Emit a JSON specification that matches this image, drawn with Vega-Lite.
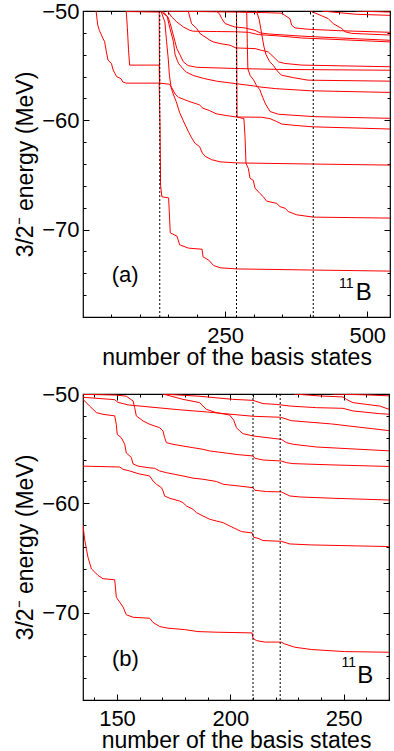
{
  "$schema": "https://vega.github.io/schema/vega-lite/v6.json",
  "padding": {"left": 14, "top": -1, "right": 3, "bottom": 0},
  "spacing": 12,
  "config": {
    "font": "Liberation Sans",
    "view": {"stroke": "#000", "strokeWidth": 1.2},
    "axis": {"domain": false, "grid": false, "labelFont": "Liberation Sans", "labelFontSize": 22, "labelColor": "#000", "titleFont": "Liberation Sans", "titleFontSize": 23, "titleFontWeight": "normal", "titleColor": "#000", "tickColor": "#000", "tickWidth": 1, "labelOverlap": false}
  },
  "datasets": {
    "a": [
      {"c":"E1","x":23,"e":-50},{"c":"E1","x":26,"e":-51.3},{"c":"E1","x":29,"e":-51.8},{"c":"E1","x":35,"e":-52.5},{"c":"E1","x":38,"e":-52.8},{"c":"E1","x":41,"e":-53.7},{"c":"E1","x":44,"e":-54.5},{"c":"E1","x":50,"e":-54.8},{"c":"E1","x":53,"e":-55.4},{"c":"E1","x":56,"e":-55.7},{"c":"E1","x":59,"e":-56.0},{"c":"E1","x":67,"e":-56.2},{"c":"E1","x":70,"e":-56.5},{"c":"E1","x":76,"e":-56.6},{"c":"E1","x":134,"e":-56.6},{"c":"E1","x":135.5,"e":-60.5},{"c":"E1","x":136.5,"e":-66.0},{"c":"E1","x":138.8,"e":-67.0},{"c":"E1","x":150.6,"e":-67.1},{"c":"E1","x":153.5,"e":-70.3},{"c":"E1","x":165.3,"e":-70.6},{"c":"E1","x":170,"e":-71.4},{"c":"E1","x":185.9,"e":-71.7},{"c":"E1","x":209.4,"e":-71.8},{"c":"E1","x":211.2,"e":-72.5},{"c":"E1","x":221.2,"e":-72.8},{"c":"E1","x":230,"e":-73.3},{"c":"E1","x":241.8,"e":-73.5},{"c":"E1","x":271,"e":-73.6},{"c":"E1","x":400,"e":-73.7},{"c":"E1","x":540,"e":-73.8},
      {"c":"T0","x":76,"e":-50.05},{"c":"T0","x":134,"e":-50.1},{"c":"T0","x":134.5,"e":-54.95},{"c":"T0","x":135,"e":-56.6},
      {"c":"C2","x":76,"e":-50},{"c":"C2","x":78,"e":-51.5},{"c":"C2","x":80,"e":-53.5},{"c":"C2","x":82,"e":-54.95},{"c":"C2","x":134,"e":-54.95},{"c":"C2","x":134.6,"e":-56.6},
      {"c":"Lg","x":134.5,"e":-56.6},{"c":"Lg","x":152,"e":-56.7},{"c":"Lg","x":156,"e":-57.0},{"c":"Lg","x":162,"e":-57.6},{"c":"Lg","x":168,"e":-57.9},{"c":"Lg","x":178,"e":-58.1},{"c":"Lg","x":188,"e":-58.3},{"c":"Lg","x":200,"e":-58.5},{"c":"Lg","x":205,"e":-58.6},{"c":"Lg","x":211,"e":-58.9},{"c":"Lg","x":222,"e":-59.1},{"c":"Lg","x":234,"e":-59.4},{"c":"Lg","x":250,"e":-59.55},{"c":"Lg","x":270,"e":-59.7},{"c":"Lg","x":314,"e":-59.72},{"c":"Lg","x":329,"e":-59.85},{"c":"Lg","x":340,"e":-60.1},{"c":"Lg","x":350,"e":-60.35},{"c":"Lg","x":380,"e":-60.5},{"c":"Lg","x":405,"e":-60.6},{"c":"Lg","x":540,"e":-60.8},
      {"c":"S64","x":137,"e":-50},{"c":"S64","x":144,"e":-51.0},{"c":"S64","x":147,"e":-52.8},{"c":"S64","x":150,"e":-54.4},{"c":"S64","x":152,"e":-55.9},{"c":"S64","x":155,"e":-57.0},{"c":"S64","x":158,"e":-57.5},{"c":"S64","x":164,"e":-58.3},{"c":"S64","x":170,"e":-59.3},{"c":"S64","x":176,"e":-60.0},{"c":"S64","x":185,"e":-61.0},{"c":"S64","x":191,"e":-61.6},{"c":"S64","x":197,"e":-62.1},{"c":"S64","x":205,"e":-62.4},{"c":"S64","x":210,"e":-63.0},{"c":"S64","x":215,"e":-63.3},{"c":"S64","x":226,"e":-63.6},{"c":"S64","x":241,"e":-63.8},{"c":"S64","x":270,"e":-63.9},{"c":"S64","x":400,"e":-64.0},{"c":"S64","x":540,"e":-64.1},
      {"c":"V69","x":270,"e":-50},{"c":"V69","x":270.5,"e":-55},{"c":"V69","x":271,"e":-59.7},{"c":"V69","x":283,"e":-59.85},{"c":"V69","x":285,"e":-61.5},{"c":"V69","x":286.7,"e":-63.95},{"c":"V69","x":290.8,"e":-64.4},{"c":"V69","x":293.7,"e":-65.3},{"c":"V69","x":299.6,"e":-65.5},{"c":"V69","x":302.5,"e":-66.2},{"c":"V69","x":311.3,"e":-66.7},{"c":"V69","x":317.2,"e":-67.0},{"c":"V69","x":323,"e":-67.4},{"c":"V69","x":340.6,"e":-67.6},{"c":"V69","x":346.5,"e":-67.9},{"c":"V69","x":355.3,"e":-68.05},{"c":"V69","x":361.1,"e":-68.35},{"c":"V69","x":375.8,"e":-68.65},{"c":"V69","x":405,"e":-68.86},{"c":"V69","x":540,"e":-68.95},
      {"c":"N","x":136,"e":-50},{"c":"N","x":148,"e":-50.5},{"c":"N","x":153,"e":-51.6},{"c":"N","x":159,"e":-52.8},{"c":"N","x":162,"e":-54.0},{"c":"N","x":168,"e":-54.8},{"c":"N","x":176,"e":-55.3},{"c":"N","x":182,"e":-55.6},{"c":"N","x":194,"e":-55.9},{"c":"N","x":212,"e":-56.17},{"c":"N","x":235,"e":-56.42},{"c":"N","x":269,"e":-56.65},{"c":"N","x":300,"e":-56.85},{"c":"N","x":311,"e":-56.95},{"c":"N","x":338,"e":-57.1},{"c":"N","x":400,"e":-57.3},{"c":"N","x":540,"e":-57.45},
      {"c":"E55","x":140,"e":-50},{"c":"E55","x":150,"e":-50.6},{"c":"E55","x":153.5,"e":-51.16},{"c":"E55","x":162,"e":-52.83},{"c":"E55","x":165,"e":-53.44},{"c":"E55","x":171,"e":-54.05},{"c":"E55","x":176.5,"e":-54.65},{"c":"E55","x":185,"e":-55.0},{"c":"E55","x":200,"e":-55.15},{"c":"E55","x":267,"e":-55.26},{"c":"E55","x":350,"e":-55.35},{"c":"E55","x":540,"e":-55.42},
      {"c":"M","x":288,"e":-50},{"c":"M","x":289,"e":-53},{"c":"M","x":290,"e":-55.3},{"c":"M","x":294,"e":-55.9},{"c":"M","x":300,"e":-56.3},{"c":"M","x":305,"e":-56.8},{"c":"M","x":311,"e":-57.2},{"c":"M","x":316,"e":-57.9},{"c":"M","x":321,"e":-58.5},{"c":"M","x":329,"e":-59.2},{"c":"M","x":344,"e":-59.45},{"c":"M","x":408,"e":-59.67},{"c":"M","x":540,"e":-59.82},
      {"c":"D","x":185,"e":-50},{"c":"D","x":191,"e":-51.16},{"c":"D","x":200,"e":-51.6},{"c":"D","x":206,"e":-52.07},{"c":"D","x":214.6,"e":-52.37},{"c":"D","x":223.4,"e":-52.68},{"c":"D","x":229.3,"e":-52.83},{"c":"D","x":241,"e":-52.98},{"c":"D","x":258.6,"e":-53.13},{"c":"D","x":269,"e":-53.38},{"c":"D","x":302.6,"e":-53.44},{"c":"D","x":314,"e":-53.6},{"c":"D","x":326,"e":-53.75},{"c":"D","x":338,"e":-54.35},{"c":"D","x":344,"e":-54.65},{"c":"D","x":355,"e":-54.8},{"c":"D","x":385,"e":-54.95},{"c":"D","x":540,"e":-55.1},
      {"c":"c","x":147,"e":-50},{"c":"c","x":150,"e":-50.1},{"c":"c","x":156,"e":-50.55},{"c":"c","x":165,"e":-51.0},{"c":"c","x":176.5,"e":-51.46},{"c":"c","x":188,"e":-51.77},{"c":"c","x":194,"e":-51.85},{"c":"c","x":235,"e":-51.88},{"c":"c","x":267,"e":-51.9},{"c":"c","x":290.9,"e":-51.95},{"c":"c","x":308.4,"e":-52.16},{"c":"c","x":343.6,"e":-52.28},{"c":"c","x":384.7,"e":-52.47},{"c":"c","x":443.3,"e":-52.6},{"c":"c","x":540,"e":-52.83},
      {"c":"A","x":234,"e":-50},{"c":"A","x":240,"e":-50.25},{"c":"A","x":244,"e":-50.7},{"c":"A","x":250,"e":-51.15},{"c":"A","x":258,"e":-51.3},{"c":"A","x":267,"e":-51.46},{"c":"A","x":285,"e":-51.55},{"c":"A","x":302.6,"e":-51.77},{"c":"A","x":311.4,"e":-52.0},{"c":"A","x":326,"e":-52.1},{"c":"A","x":384.7,"e":-52.3},{"c":"A","x":443.3,"e":-52.45},{"c":"A","x":540,"e":-52.68},
      {"c":"T","x":150,"e":-50.02},{"c":"T","x":200,"e":-50.05},{"c":"T","x":267,"e":-50.1},{"c":"T","x":320,"e":-50.15},{"c":"T","x":350,"e":-50.2},{"c":"T","x":355,"e":-50.4},{"c":"T","x":364,"e":-50.7},{"c":"T","x":367,"e":-51.3},{"c":"T","x":373,"e":-51.55},{"c":"T","x":396,"e":-51.67},{"c":"T","x":450,"e":-51.8},{"c":"T","x":540,"e":-51.95},
      {"c":"Z2","x":400,"e":-50},{"c":"Z2","x":431.5,"e":-50.7},{"c":"Z2","x":440.3,"e":-51.16},{"c":"Z2","x":455,"e":-51.6},{"c":"Z2","x":460.8,"e":-51.9},{"c":"Z2","x":472.6,"e":-52.05},{"c":"Z2","x":540,"e":-52.2},
      {"c":"U1","x":305,"e":-50},{"c":"U1","x":310,"e":-50.8},{"c":"U1","x":314,"e":-52},{"c":"U1","x":318,"e":-53.2},{"c":"U1","x":322,"e":-54.0},{"c":"U1","x":328,"e":-54.6},{"c":"U1","x":335,"e":-55.0},{"c":"U1","x":342,"e":-55.5},{"c":"U1","x":349,"e":-55.87},{"c":"U1","x":370,"e":-56.1},{"c":"U1","x":396,"e":-56.33},{"c":"U1","x":540,"e":-56.42},
      {"c":"Y1","x":420,"e":-50},{"c":"Y1","x":450,"e":-50.15},{"c":"Y1","x":480,"e":-50.3},{"c":"Y1","x":540,"e":-50.4},
      {"c":"Y2","x":480,"e":-50},{"c":"Y2","x":540,"e":-50.1}
    ],
    "b": [
      {"c":"B1","x":135,"e":-62.0},{"c":"B1","x":135.7,"e":-63.26},{"c":"B1","x":136.5,"e":-64.2},{"c":"B1","x":137.2,"e":-64.94},{"c":"B1","x":138.7,"e":-66.0},{"c":"B1","x":140.2,"e":-66.3},{"c":"B1","x":141.6,"e":-66.6},{"c":"B1","x":143.8,"e":-66.9},{"c":"B1","x":149,"e":-67.0},{"c":"B1","x":149.7,"e":-68.6},{"c":"B1","x":151.2,"e":-69.05},{"c":"B1","x":152.7,"e":-69.5},{"c":"B1","x":154.1,"e":-70.2},{"c":"B1","x":157.1,"e":-70.43},{"c":"B1","x":164.4,"e":-70.52},{"c":"B1","x":165.9,"e":-70.9},{"c":"B1","x":168.8,"e":-71.28},{"c":"B1","x":172.5,"e":-71.43},{"c":"B1","x":179.9,"e":-71.56},{"c":"B1","x":185.7,"e":-71.74},{"c":"B1","x":194.6,"e":-71.8},{"c":"B1","x":209.6,"e":-71.86},{"c":"B1","x":210,"e":-72.35},{"c":"B1","x":211.5,"e":-72.56},{"c":"B1","x":215.2,"e":-72.7},{"c":"B1","x":222.5,"e":-72.7},{"c":"B1","x":224,"e":-72.87},{"c":"B1","x":228.4,"e":-73.17},{"c":"B1","x":235.7,"e":-73.38},{"c":"B1","x":250.4,"e":-73.57},{"c":"B1","x":270,"e":-73.63},
      {"c":"B2","x":135,"e":-56.6},{"c":"B2","x":151.2,"e":-56.68},{"c":"B2","x":152.6,"e":-56.89},{"c":"B2","x":155.6,"e":-57.04},{"c":"B2","x":159.3,"e":-57.29},{"c":"B2","x":164.4,"e":-57.5},{"c":"B2","x":165.9,"e":-57.96},{"c":"B2","x":167.4,"e":-58.26},{"c":"B2","x":169.6,"e":-58.57},{"c":"B2","x":170.3,"e":-58.87},{"c":"B2","x":171,"e":-59.33},{"c":"B2","x":173.2,"e":-59.54},{"c":"B2","x":177.6,"e":-59.79},{"c":"B2","x":179.1,"e":-59.94},{"c":"B2","x":180.6,"e":-60.24},{"c":"B2","x":183.5,"e":-60.55},{"c":"B2","x":185,"e":-60.85},{"c":"B2","x":187.9,"e":-61.16},{"c":"B2","x":190.9,"e":-61.46},{"c":"B2","x":193.8,"e":-61.62},{"c":"B2","x":196.8,"e":-61.77},{"c":"B2","x":199.7,"e":-62.07},{"c":"B2","x":203,"e":-62.4},{"c":"B2","x":204.9,"e":-62.59},{"c":"B2","x":209.6,"e":-62.71},{"c":"B2","x":210.3,"e":-63.11},{"c":"B2","x":212.2,"e":-63.2},{"c":"B2","x":214.4,"e":-63.41},{"c":"B2","x":222.5,"e":-63.48},{"c":"B2","x":226.2,"e":-63.72},{"c":"B2","x":235.7,"e":-63.81},{"c":"B2","x":270,"e":-63.96},
      {"c":"B3","x":135,"e":-50.49},{"c":"B3","x":137.9,"e":-51.1},{"c":"B3","x":140.9,"e":-51.7},{"c":"B3","x":143.8,"e":-51.86},{"c":"B3","x":149,"e":-52.0},{"c":"B3","x":149.7,"e":-52.8},{"c":"B3","x":150.1,"e":-53.7},{"c":"B3","x":151.9,"e":-54.0},{"c":"B3","x":153.4,"e":-54.6},{"c":"B3","x":154.1,"e":-55.4},{"c":"B3","x":156.3,"e":-55.8},{"c":"B3","x":157.1,"e":-56.4},{"c":"B3","x":159.3,"e":-56.6},{"c":"B3","x":163.7,"e":-56.74},{"c":"B3","x":166.6,"e":-56.8},{"c":"B3","x":168.8,"e":-57.04},{"c":"B3","x":171.8,"e":-57.2},{"c":"B3","x":175.4,"e":-57.35},{"c":"B3","x":179.1,"e":-57.5},{"c":"B3","x":183.5,"e":-57.7},{"c":"B3","x":187.9,"e":-57.8},{"c":"B3","x":193.8,"e":-58.0},{"c":"B3","x":196.8,"e":-58.26},{"c":"B3","x":203.4,"e":-58.41},{"c":"B3","x":210,"e":-58.57},{"c":"B3","x":210.8,"e":-58.81},{"c":"B3","x":215.9,"e":-58.93},{"c":"B3","x":222.5,"e":-58.96},{"c":"B3","x":226.2,"e":-59.33},{"c":"B3","x":230.6,"e":-59.42},{"c":"B3","x":245.3,"e":-59.54},{"c":"B3","x":270,"e":-59.7},
      {"c":"B4","x":135,"e":-50.03},{"c":"B4","x":149.7,"e":-50.1},{"c":"B4","x":154.1,"e":-50.2},{"c":"B4","x":157.1,"e":-50.64},{"c":"B4","x":157.8,"e":-51.25},{"c":"B4","x":158.5,"e":-52.0},{"c":"B4","x":161.5,"e":-52.47},{"c":"B4","x":164.4,"e":-52.77},{"c":"B4","x":168.8,"e":-53.08},{"c":"B4","x":170.3,"e":-53.38},{"c":"B4","x":171,"e":-53.99},{"c":"B4","x":171.8,"e":-54.45},{"c":"B4","x":174.7,"e":-54.6},{"c":"B4","x":179.1,"e":-54.76},{"c":"B4","x":183.5,"e":-54.91},{"c":"B4","x":187.9,"e":-55.06},{"c":"B4","x":190.9,"e":-55.21},{"c":"B4","x":196.8,"e":-55.37},{"c":"B4","x":203.4,"e":-55.55},{"c":"B4","x":210,"e":-55.67},{"c":"B4","x":210.8,"e":-55.88},{"c":"B4","x":214.4,"e":-56.04},{"c":"B4","x":222.5,"e":-56.13},{"c":"B4","x":224.7,"e":-56.28},{"c":"B4","x":227.7,"e":-56.37},{"c":"B4","x":245.3,"e":-56.49},{"c":"B4","x":270,"e":-56.63},
      {"c":"B5","x":170.3,"e":-50.0},{"c":"B5","x":179.1,"e":-50.49},{"c":"B5","x":186.5,"e":-50.79},{"c":"B5","x":189.4,"e":-51.4},{"c":"B5","x":193.8,"e":-51.71},{"c":"B5","x":199.7,"e":-51.92},{"c":"B5","x":201.5,"e":-52.4},{"c":"B5","x":202.7,"e":-53.08},{"c":"B5","x":204.1,"e":-53.38},{"c":"B5","x":205.6,"e":-53.63},{"c":"B5","x":210,"e":-53.84},{"c":"B5","x":222.5,"e":-54.15},{"c":"B5","x":224.7,"e":-54.45},{"c":"B5","x":227.7,"e":-54.6},{"c":"B5","x":238,"e":-54.85},{"c":"B5","x":270,"e":-55.2},
      {"c":"B6","x":135,"e":-50.3},{"c":"B6","x":149,"e":-50.52},{"c":"B6","x":150.4,"e":-50.76},{"c":"B6","x":154.9,"e":-51.0},{"c":"B6","x":165,"e":-51.2},{"c":"B6","x":176.9,"e":-51.43},{"c":"B6","x":190,"e":-51.65},{"c":"B6","x":199,"e":-51.83},{"c":"B6","x":210.1,"e":-52.04},{"c":"B6","x":222.2,"e":-52.13},{"c":"B6","x":226.9,"e":-52.44},{"c":"B6","x":244.6,"e":-52.74},{"c":"B6","x":270,"e":-53.35},
      {"c":"B7","x":170,"e":-50.0},{"c":"B7","x":186,"e":-50.2},{"c":"B7","x":201,"e":-50.49},{"c":"B7","x":210,"e":-50.58},{"c":"B7","x":214.4,"e":-50.88},{"c":"B7","x":220.3,"e":-50.95},{"c":"B7","x":226.2,"e":-51.1},{"c":"B7","x":238,"e":-51.25},{"c":"B7","x":249.7,"e":-51.31},{"c":"B7","x":254.1,"e":-51.55},{"c":"B7","x":265.9,"e":-51.8},{"c":"B7","x":270,"e":-51.85},
      {"c":"B8","x":228,"e":-50.0},{"c":"B8","x":239.4,"e":-50.18},{"c":"B8","x":249.7,"e":-50.27},{"c":"B8","x":251.2,"e":-50.49},{"c":"B8","x":254.1,"e":-50.79},{"c":"B8","x":260,"e":-50.95},{"c":"B8","x":265.9,"e":-51.1},{"c":"B8","x":270,"e":-51.4},
      {"c":"B9","x":245,"e":-50.0},{"c":"B9","x":260,"e":-50.08},{"c":"B9","x":270,"e":-50.17}
    ],
    "av": [{"x":135,"y1":-78,"y2":-50},{"x":270,"y1":-78,"y2":-50},{"x":405,"y1":-78,"y2":-50}],
    "bv": [{"x":210,"y1":-78,"y2":-50},{"x":222,"y1":-78,"y2":-50}],
    "at": [{"t":"(a)","x":74,"e":-74.2},{"t":"B","x":494,"e":-75.8},{"t":"11","x":463,"e":-75.0}],
    "bt": [{"t":"(b)","x":153.7,"e":-74.25},{"t":"B","x":259.5,"e":-75.77},{"t":"11","x":252.2,"e":-74.6}]
  },
  "vconcat": [
    {
      "width": 307, "height": 306,
      "layer": [
        {
          "data": {"name": "a"},
          "mark": {"type": "line", "stroke": "#ff0000", "strokeWidth": 1, "clip": true},
          "encoding": {
            "x": {"field": "x", "type": "quantitative", "scale": {"domain": [0, 540], "nice": false, "zero": false},
              "axis": {"orient": "bottom", "values": [50,100,150,200,250,300,350,400,450,500], "labelExpr": "datum.value % 250 === 0 ? datum.label : ''",
                "tickSize": {"condition": {"test": "datum.value % 250 === 0", "value": -6}, "value": -3},
                "labelPadding": 14, "title": "number of the basis states", "titlePadding": -3}},
            "y": {"field": "e", "type": "quantitative", "scale": {"domain": [-78, -50], "nice": false, "zero": false},
              "axis": {"orient": "left", "values": [-78,-76,-74,-72,-70,-68,-66,-64,-62,-60,-58,-56,-54,-52,-50], "labelExpr": "datum.value % 10 === 0 ? datum.label : ''",
                "tickSize": {"condition": {"test": "datum.value % 10 === 0", "value": -6}, "value": -3},
                "labelPadding": 10, "title": "3/2⁻ energy (MeV)", "titlePadding": 4}},
            "detail": {"field": "c"}
          }
        },
        {
          "data": {"name": "av"},
          "mark": {"type": "rule", "color": "#000", "strokeDash": [2, 2], "strokeWidth": 1},
          "encoding": {
            "x": {"field": "x", "type": "quantitative", "scale": {"domain": [0, 540], "nice": false, "zero": false},
              "axis": {"orient": "top", "values": [50,100,150,200,250,300,350,400,450,500], "labels": false, "title": null,
                "tickSize": {"condition": {"test": "datum.value % 250 === 0", "value": -6}, "value": -3}}},
            "y": {"field": "y1", "type": "quantitative", "scale": {"domain": [-78, -50], "nice": false, "zero": false},
              "axis": {"orient": "right", "values": [-78,-76,-74,-72,-70,-68,-66,-64,-62,-60,-58,-56,-54,-52,-50], "labels": false, "title": null,
                "tickSize": {"condition": {"test": "datum.value % 10 === 0", "value": -6}, "value": -3}}},
            "y2": {"field": "y2"}
          }
        },
        {
          "data": {"name": "at"},
          "transform": [{"filter": "datum.t === '(a)'"}],
          "mark": {"type": "text", "fontSize": 22, "color": "#000", "align": "center", "baseline": "middle"},
          "encoding": {
            "x": {"field": "x", "type": "quantitative", "axis": null, "scale": {"domain": [0, 540], "nice": false, "zero": false}},
            "y": {"field": "e", "type": "quantitative", "axis": null, "scale": {"domain": [-78, -50], "nice": false, "zero": false}},
            "text": {"field": "t"}
          }
        },
        {
          "data": {"name": "at"},
          "transform": [{"filter": "datum.t === 'B'"}],
          "mark": {"type": "text", "fontSize": 24, "color": "#000", "align": "center", "baseline": "middle"},
          "encoding": {
            "x": {"field": "x", "type": "quantitative", "axis": null, "scale": {"domain": [0, 540], "nice": false, "zero": false}},
            "y": {"field": "e", "type": "quantitative", "axis": null, "scale": {"domain": [-78, -50], "nice": false, "zero": false}},
            "text": {"field": "t"}
          }
        },
        {
          "data": {"name": "at"},
          "transform": [{"filter": "datum.t === '11'"}],
          "mark": {"type": "text", "fontSize": 14, "color": "#000", "align": "center", "baseline": "middle"},
          "encoding": {
            "x": {"field": "x", "type": "quantitative", "axis": null, "scale": {"domain": [0, 540], "nice": false, "zero": false}},
            "y": {"field": "e", "type": "quantitative", "axis": null, "scale": {"domain": [-78, -50], "nice": false, "zero": false}},
            "text": {"field": "t"}
          }
        }
      ],
      "resolve": {"axis": {"x": "independent", "y": "independent"}}
    },
    {
      "width": 306, "height": 306,
      "layer": [
        {
          "data": {"name": "b"},
          "mark": {"type": "line", "stroke": "#ff0000", "strokeWidth": 1, "clip": true},
          "encoding": {
            "x": {"field": "x", "type": "quantitative", "scale": {"domain": [135, 270], "nice": false, "zero": false},
              "axis": {"orient": "bottom", "values": [140,150,160,170,180,190,200,210,220,230,240,250,260,270], "labelExpr": "datum.value % 50 === 0 ? datum.label : ''",
                "tickSize": {"condition": {"test": "datum.value % 50 === 0", "value": -6}, "value": -3},
                "labelPadding": 14, "title": "number of the basis states", "titlePadding": -3}},
            "y": {"field": "e", "type": "quantitative", "scale": {"domain": [-78, -50], "nice": false, "zero": false},
              "axis": {"orient": "left", "values": [-78,-76,-74,-72,-70,-68,-66,-64,-62,-60,-58,-56,-54,-52,-50], "labelExpr": "datum.value % 10 === 0 ? datum.label : ''",
                "tickSize": {"condition": {"test": "datum.value % 10 === 0", "value": -6}, "value": -3},
                "labelPadding": 10, "title": "3/2⁻ energy (MeV)", "titlePadding": 4}},
            "detail": {"field": "c"}
          }
        },
        {
          "data": {"name": "bv"},
          "mark": {"type": "rule", "color": "#000", "strokeDash": [2, 2], "strokeWidth": 1},
          "encoding": {
            "x": {"field": "x", "type": "quantitative", "scale": {"domain": [135, 270], "nice": false, "zero": false},
              "axis": {"orient": "top", "values": [140,150,160,170,180,190,200,210,220,230,240,250,260,270], "labels": false, "title": null,
                "tickSize": {"condition": {"test": "datum.value % 50 === 0", "value": -6}, "value": -3}}},
            "y": {"field": "y1", "type": "quantitative", "scale": {"domain": [-78, -50], "nice": false, "zero": false},
              "axis": {"orient": "right", "values": [-78,-76,-74,-72,-70,-68,-66,-64,-62,-60,-58,-56,-54,-52,-50], "labels": false, "title": null,
                "tickSize": {"condition": {"test": "datum.value % 10 === 0", "value": -6}, "value": -3}}},
            "y2": {"field": "y2"}
          }
        },
        {
          "data": {"name": "bt"},
          "transform": [{"filter": "datum.t === '(b)'"}],
          "mark": {"type": "text", "fontSize": 22, "color": "#000", "align": "center", "baseline": "middle"},
          "encoding": {
            "x": {"field": "x", "type": "quantitative", "axis": null, "scale": {"domain": [135, 270], "nice": false, "zero": false}},
            "y": {"field": "e", "type": "quantitative", "axis": null, "scale": {"domain": [-78, -50], "nice": false, "zero": false}},
            "text": {"field": "t"}
          }
        },
        {
          "data": {"name": "bt"},
          "transform": [{"filter": "datum.t === 'B'"}],
          "mark": {"type": "text", "fontSize": 24, "color": "#000", "align": "center", "baseline": "middle"},
          "encoding": {
            "x": {"field": "x", "type": "quantitative", "axis": null, "scale": {"domain": [135, 270], "nice": false, "zero": false}},
            "y": {"field": "e", "type": "quantitative", "axis": null, "scale": {"domain": [-78, -50], "nice": false, "zero": false}},
            "text": {"field": "t"}
          }
        },
        {
          "data": {"name": "bt"},
          "transform": [{"filter": "datum.t === '11'"}],
          "mark": {"type": "text", "fontSize": 14, "color": "#000", "align": "center", "baseline": "middle"},
          "encoding": {
            "x": {"field": "x", "type": "quantitative", "axis": null, "scale": {"domain": [135, 270], "nice": false, "zero": false}},
            "y": {"field": "e", "type": "quantitative", "axis": null, "scale": {"domain": [-78, -50], "nice": false, "zero": false}},
            "text": {"field": "t"}
          }
        }
      ],
      "resolve": {"axis": {"x": "independent", "y": "independent"}}
    }
  ]
}
